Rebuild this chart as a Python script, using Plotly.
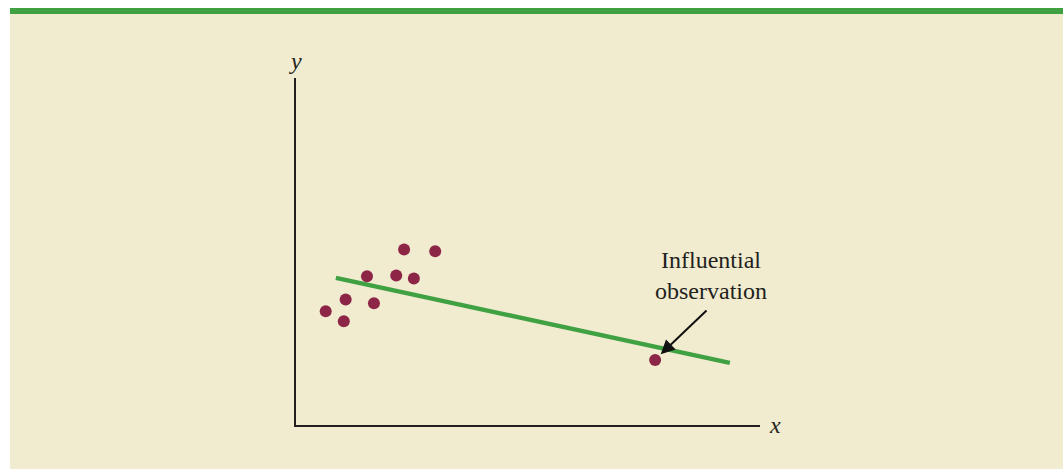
import plotly.graph_objects as go

# Scatter observations (x, y in arbitrary units)
obs_x = [6.4, 10.7, 10.3, 16.8, 15.3, 21.6, 25.4, 23.3, 30.0, 77.4]
obs_y = [32.8, 36.2, 29.9, 35.1, 42.9, 43.1, 42.2, 50.6, 50.1, 18.7]

# Fitted regression line end points
fit_x = [8.6, 93.5]
fit_y = [42.4, 17.9]

# Annotation: arrow tail / head and label position
arrow_tail = (88.8, 33.4)
arrow_head = (78.6, 20.4)
label_pos = (89.4, 43.0)
label_text = "Influential<br>observation"

BEIGE = "#f1ebcf"
GREEN = "#3fa142"
MAROON = "#8d2547"
INK = "#231f20"
SERIF = "Liberation Serif, Times New Roman, serif"

W, H = 1063, 469
L, R, T, B = 296, 760, 78, 425   # plot area in pixels


def px_x(p):
    return (p - L) / (R - L)


def px_y(p):
    return (B - p) / (B - T)


fig = go.Figure()

fig.add_trace(go.Scatter(
    x=fit_x, y=fit_y, mode="lines",
    line=dict(color=GREEN, width=4.5),
    hoverinfo="skip", showlegend=False,
))

fig.add_trace(go.Scatter(
    x=obs_x, y=obs_y, mode="markers",
    marker=dict(color=MAROON, size=12, line=dict(width=0)),
    showlegend=False,
))

# Panel background and top rule
fig.add_shape(type="rect", xref="paper", yref="paper", layer="below",
              x0=px_x(10), x1=px_x(1063), y0=px_y(469), y1=px_y(14),
              fillcolor=BEIGE, line=dict(width=0))
fig.add_shape(type="rect", xref="paper", yref="paper", layer="below",
              x0=px_x(10), x1=px_x(1063), y0=px_y(14), y1=px_y(8),
              fillcolor=GREEN, line=dict(width=0))

fig.add_annotation(
    x=arrow_head[0], y=arrow_head[1], ax=arrow_tail[0], ay=arrow_tail[1],
    xref="x", yref="y", axref="x", ayref="y",
    showarrow=True, arrowhead=2, arrowsize=1.4, arrowwidth=2, arrowcolor="#111111",
    text="",
)
fig.add_annotation(
    x=label_pos[0], y=label_pos[1], xref="x", yref="y",
    text=label_text, showarrow=False, align="center",
    xanchor="center", yanchor="middle",
    font=dict(family=SERIF, size=24, color=INK),
)

# Axis letters
fig.add_annotation(x=px_x(295), y=px_y(61), xref="paper", yref="paper",
                   text="<i>y</i>", showarrow=False,
                   xanchor="center", yanchor="middle",
                   font=dict(family=SERIF, size=24, color=INK))
fig.add_annotation(x=px_x(775), y=px_y(425), xref="paper", yref="paper",
                   text="<i>x</i>", showarrow=False,
                   xanchor="center", yanchor="middle",
                   font=dict(family=SERIF, size=24, color=INK))

axis_common = dict(showgrid=False, zeroline=False, showticklabels=False,
                   ticks="", showline=True, linecolor=INK, linewidth=2,
                   fixedrange=True)

fig.update_layout(
    width=W, height=H,
    margin=dict(l=L, r=W - R, t=T, b=H - B, pad=0),
    paper_bgcolor="white",
    plot_bgcolor="rgba(0,0,0,0)",
    xaxis=dict(range=[0, 100], **axis_common),
    yaxis=dict(range=[0, 100], **axis_common),
    showlegend=False,
)

fig.write_html("out.html", config={"displayModeBar": False})
